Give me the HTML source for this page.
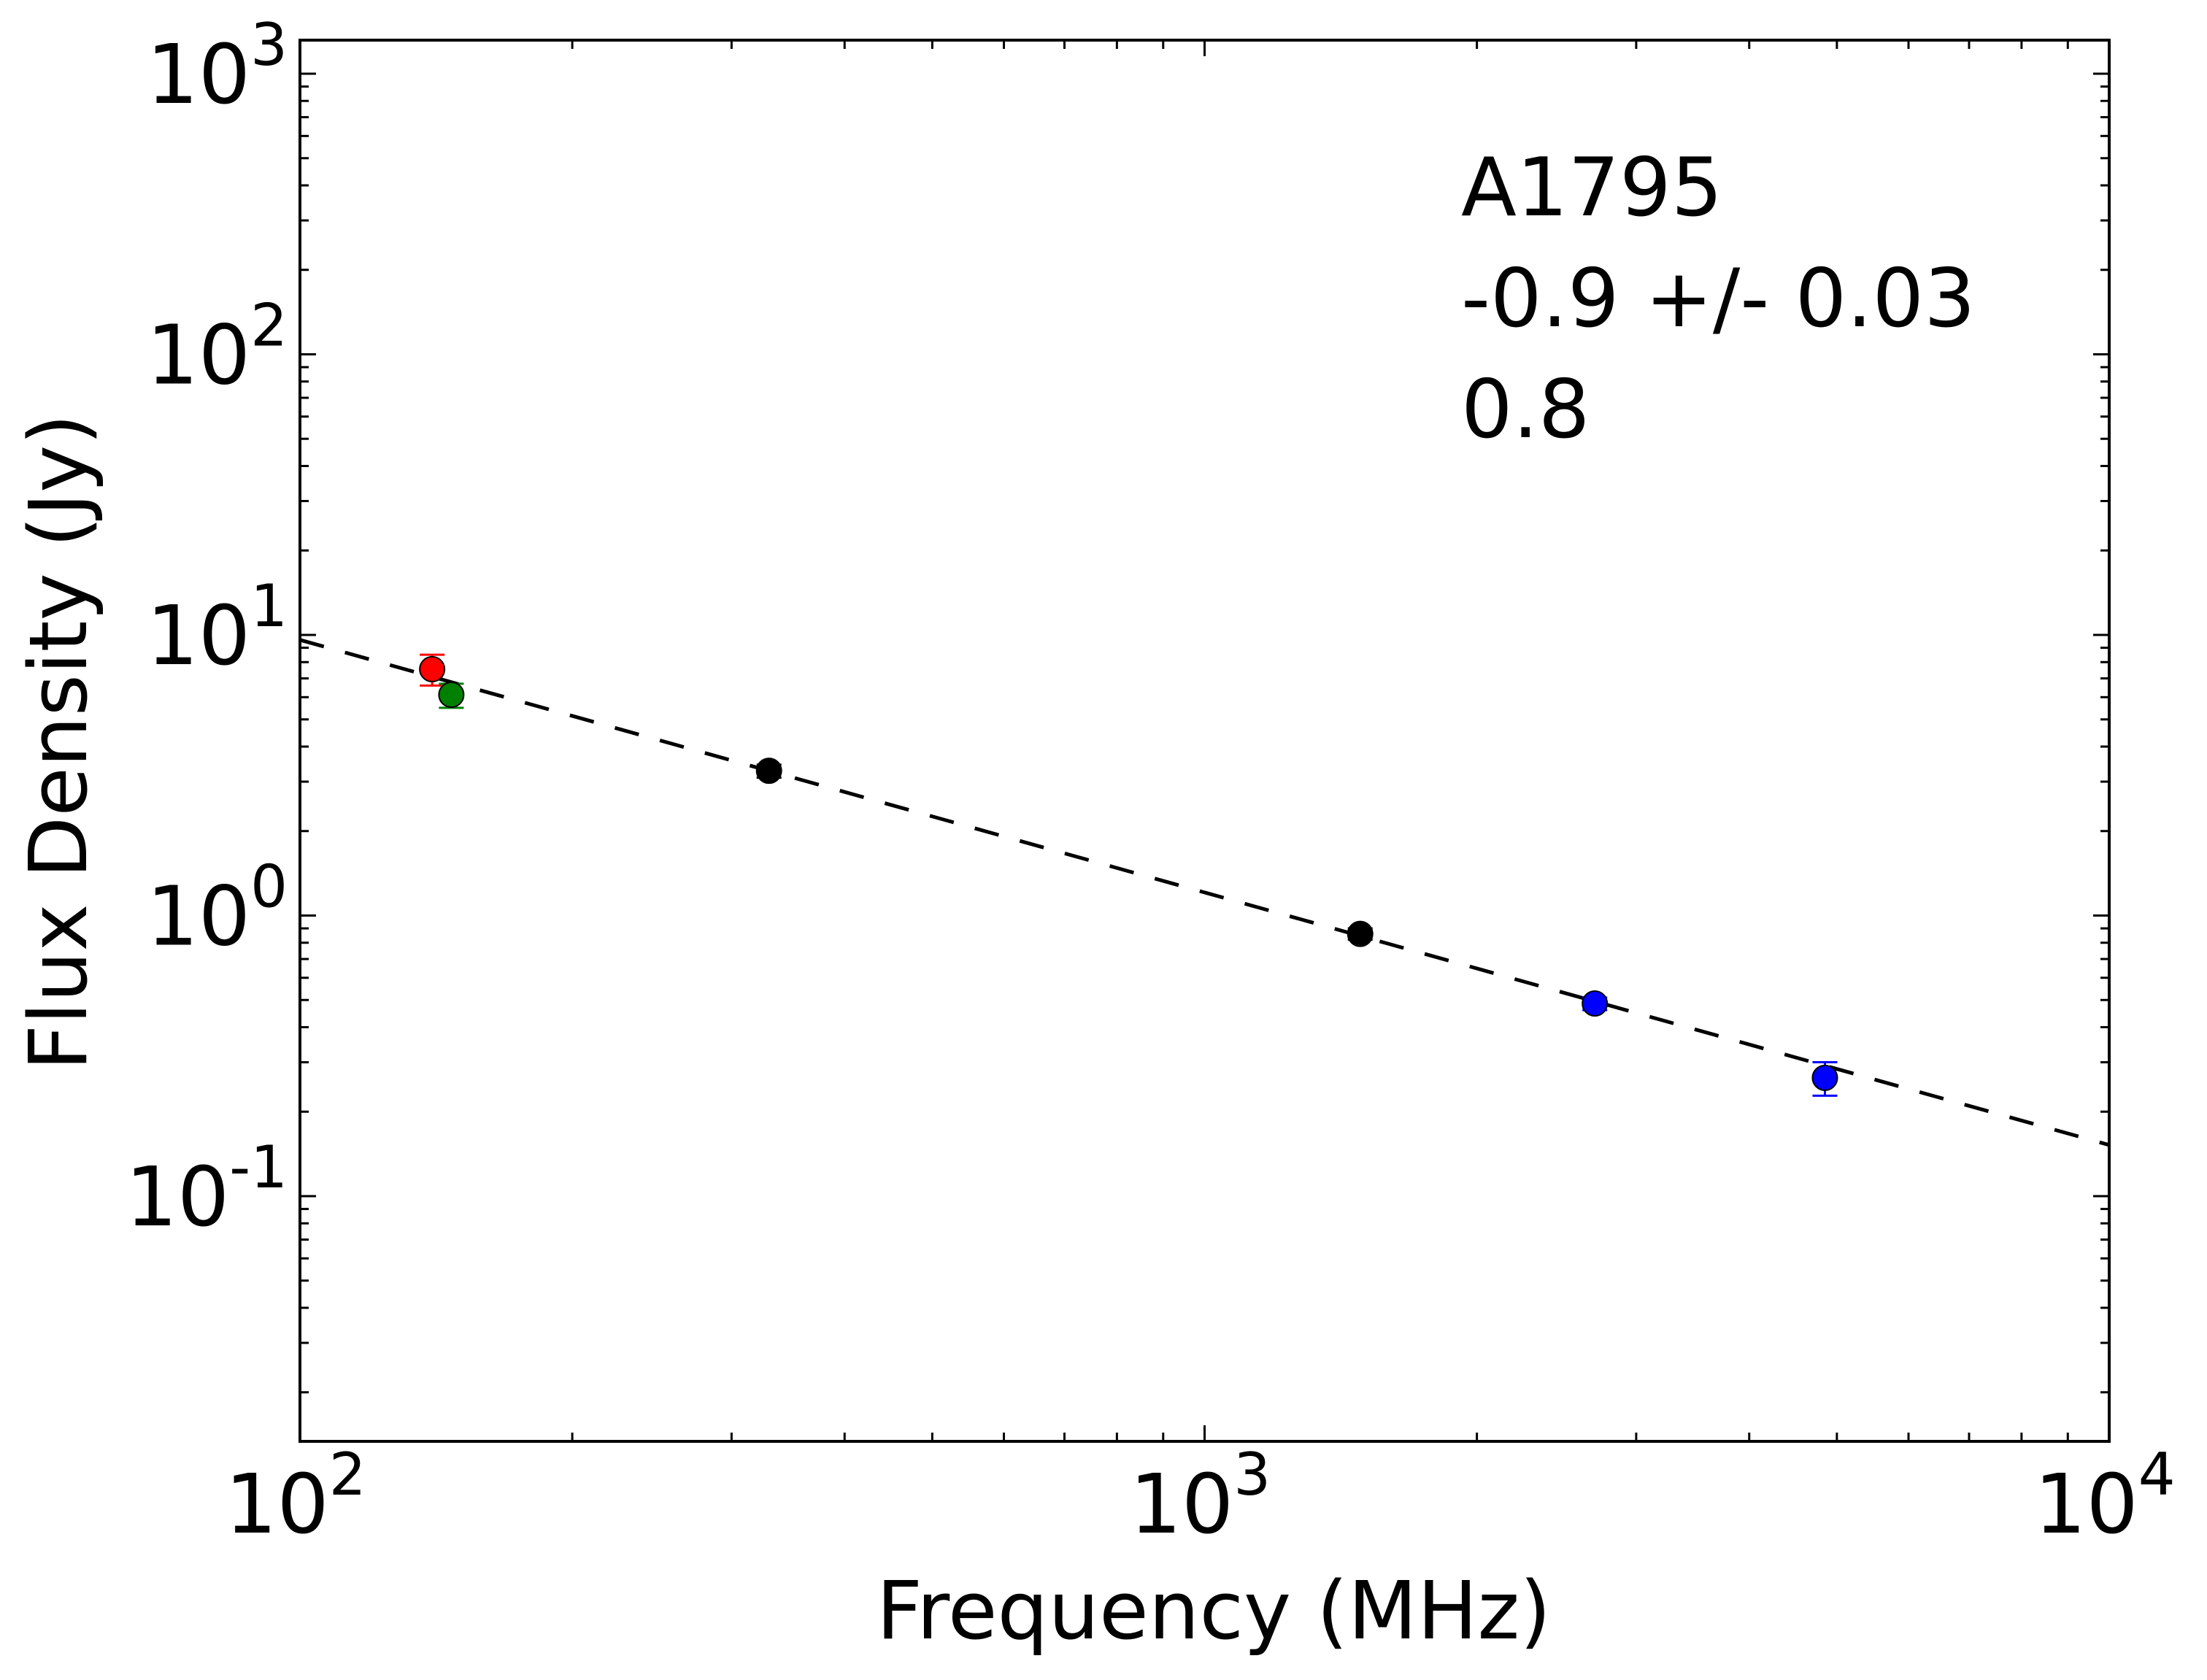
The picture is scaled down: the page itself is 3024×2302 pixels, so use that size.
<!DOCTYPE html>
<html><head><meta charset="utf-8"><style>
html,body{margin:0;padding:0;background:#fff}
svg text{font-family:"DejaVu Sans","Liberation Sans",sans-serif;fill:#000}
</style></head><body>
<svg id="chart" width="3024" height="2297" xmlns="http://www.w3.org/2000/svg"></svg>
<script>
const freqs = [140, 147, 330, 1486, 2700, 4850];
const fluxes = [7.55, 6.12, 3.28, 0.86, 0.486, 0.264];
const errLo = [6.6, 5.5, 3.1, 0.82, 0.46, 0.228];
const errHi = [8.5, 6.7, 3.45, 0.9, 0.51, 0.30];
const colors = ['#ff0000', '#008000', '#000000', '#000000', '#0000ff', '#0000ff'];
const fitAmp = [9.6];
const fitIndex = [-0.9];
const xTickExp = [2, 3, 4];
const yTickExp = [-1, 0, 1, 2, 3];
const annot = ['A1795', '-0.9 +/- 0.03', '0.8'];

const NS = 'http://www.w3.org/2000/svg';
const svg = document.getElementById('chart');
const L = 411, R = 2890, T = 55, B = 1975;
const xMin = 2, xMax = 4;
const yMin = -1 - (1975 - 1639) / 384.5, yMax = 3 + 46 / 384.5;
function xs(v) { return L + (Math.log10(v) - xMin) / (xMax - xMin) * (R - L); }
function ys(v) { return B - (Math.log10(v) - yMin) / (yMax - yMin) * (B - T); }
function mk(tag, attrs) {
  const e = document.createElementNS(NS, tag);
  for (const k in attrs) e.setAttribute(k, attrs[k]);
  svg.appendChild(e);
  return e;
}

for (let d = 2; d <= 4; d++) {
  for (let m = 1; m <= 9; m++) {
    const v = m * Math.pow(10, d);
    if (Math.log10(v) > xMax + 1e-9) continue;
    const x = xs(v), len = m === 1 ? 22 : 12;
    const t1 = mk('line', {x1: x, x2: x, y1: B, y2: B - len, stroke: '#000', 'stroke-width': 3});
    
    
    const t2 = mk('line', {x1: x, x2: x, y1: T, y2: T + len, stroke: '#000', 'stroke-width': 3});
    
    
  }
}
for (let d = -2; d <= 3; d++) {
  for (let m = 1; m <= 9; m++) {
    const v = m * Math.pow(10, d);
    const lv = Math.log10(v);
    if (lv < yMin || lv > yMax) continue;
    const y = ys(v), len = m === 1 ? 22 : 12;
    const t1 = mk('line', {x1: L, x2: L + len, y1: y, y2: y, stroke: '#000', 'stroke-width': 3});
    
    
    const t2 = mk('line', {x1: R, x2: R - len, y1: y, y2: y, stroke: '#000', 'stroke-width': 3});
    
    
  }
}

const fit = mk('line', {x1: xs(100), y1: ys(fitAmp[0]), x2: xs(10000), y2: ys(fitAmp[0] * Math.pow(100, fitIndex[0])), stroke: '#000', 'stroke-width': 5, 'stroke-dasharray': '34,30'});



freqs.forEach((f, i) => {
  const x = xs(f), c = colors[i];
  const e = mk('line', {x1: x, x2: x, y1: ys(errLo[i]), y2: ys(errHi[i]), stroke: c, 'stroke-width': 3});
  
  
  [errLo[i], errHi[i]].forEach(v => {
    const cap = mk('line', {x1: x - 17, x2: x + 17, y1: ys(v), y2: ys(v), stroke: c, 'stroke-width': 3});
    
    
  });
  const p = mk('circle', {cx: x, cy: ys(fluxes[i]), r: 17, fill: c, stroke: '#000', 'stroke-width': 2});
  
  
});

const fr = mk('rect', {x: L, y: T, width: R - L, height: B - T, fill: 'none', stroke: '#000', 'stroke-width': 4});



xTickExp.forEach(e => {
  const t = mk('text', {x: xs(Math.pow(10, e)) - 6, y: 2100, 'font-size': 112, 'text-anchor': 'middle'});
  
  
  t.innerHTML = '10<tspan dy="-52" font-size="80">' + e + '</tspan>';
});
yTickExp.forEach(e => {
  const t = mk('text', {x: 394, y: ys(Math.pow(10, e)) + 40, 'font-size': 112, 'text-anchor': 'end'});
  
  
  t.innerHTML = '10<tspan dy="-52" font-size="80">' + e + '</tspan>';
});

const xt = mk('text', {x: 1663, y: 2245, 'font-size': 110, 'text-anchor': 'middle'});


xt.textContent = 'Frequency (MHz)';
const yt = mk('text', {x: 0, y: 0, 'font-size': 110, 'text-anchor': 'middle', transform: 'translate(118,1017) rotate(-90)'});


yt.textContent = 'Flux Density (Jy)';

annot.forEach((s, i) => {
  const t = mk('text', {x: 2002, y: 295 + i * 152, 'font-size': 111});
  
  
  t.textContent = s;
});
</script>
</body></html>
